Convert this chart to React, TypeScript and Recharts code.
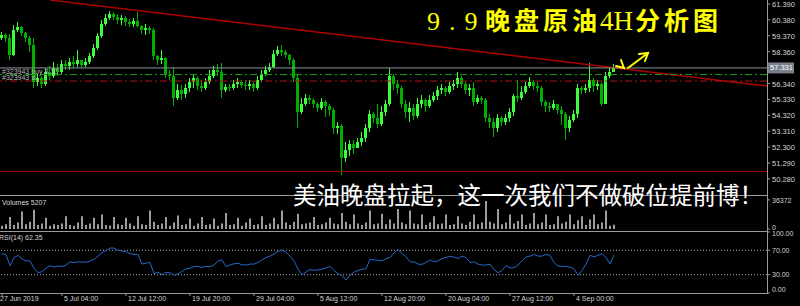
import { Bar, BarChart, ComposedChart, Line, LineChart, ReferenceLine, XAxis, YAxis } from "recharts";

// 4H crude oil bars, one entry per drawn candle (oldest first)
const firstOpen = 59.23;
const closes = [
  59.42, 59.23, 58.15, 59.74, 59.93, 59.55, 59.23, 58.79, 56.44, 56.69,
  56.31, 57.07, 56.82, 57.33, 57.07, 57.58, 57.45, 57.71, 57.58, 57.83,
  57.52, 57.71, 58.09, 58.6, 59.36, 60.12, 60.5, 60.76, 60.56, 60.37,
  60.5, 60.25, 60.12, 60.31, 59.99, 59.74, 59.87, 59.74, 58.09, 57.83,
  57.96, 56.88, 56.82, 55.42, 55.93, 55.68, 56.06, 56.44, 56.69, 56.18,
  56.06, 56.44, 56.82, 57.2, 57.07, 55.93, 56.12, 56.06, 56.31, 56.44,
  56.25, 56.18, 56.31, 56.06, 56.56, 56.95, 57.2, 57.39, 58.22, 58.47,
  58.34, 58.15, 57.83, 56.69, 54.53, 55.04, 55.42, 55.29, 55.04, 54.79,
  55.17, 54.91, 54.66, 53.52, 53.64, 51.61, 52.12, 52.5, 52.25, 52.63,
  52.88, 53.52, 54.41, 54.15, 53.77, 54.53, 55.04, 56.82, 56.31, 56.06,
  55.04, 54.53, 54.79, 54.28, 55.04, 55.29, 54.91, 55.29, 55.55, 55.93,
  56.06, 55.8, 56.18, 56.31, 56.69, 56.31, 55.93, 56.06, 55.17, 55.42,
  55.29, 54.15, 53.9, 53.52, 54.15, 53.9, 54.15, 54.53, 55.55, 55.42,
  55.8, 56.18, 56.44, 56.18, 56.06, 55.17, 54.91, 54.79, 55.04, 54.66,
  54.41, 53.52, 54.03, 54.41, 56.06, 55.93, 56.06, 56.56, 56.18, 56.31,
  55.04, 56.82, 57.07, 57.33,
];
const highs = [
  59.61, 59.55, 59.49, 60.06, 60.25, 59.99, 59.61, 59.36, 59.23, 56.95,
  56.82, 57.33, 57.45, 57.71, 57.58, 57.83, 57.83, 57.96, 58.09, 58.47,
  57.83, 57.96, 58.28, 58.85, 59.55, 60.37, 60.76, 60.95, 60.88, 60.76,
  60.69, 60.63, 60.44, 60.5, 60.88, 60.06, 60.12, 59.99, 59.87, 58.15,
  58.47, 58.03, 57.2, 57.39, 56.31, 56.25, 56.31, 56.69, 56.95, 56.82,
  56.56, 56.69, 57.2, 57.45, 57.58, 57.64, 56.31, 56.31, 56.56, 56.69,
  56.56, 56.56, 56.56, 56.44, 56.82, 57.2, 57.45, 57.64, 58.47, 58.72,
  58.79, 58.47, 58.22, 57.96, 56.95, 55.42, 55.68, 55.61, 55.42, 55.17,
  55.42, 55.29, 55.04, 54.79, 53.9, 53.77, 52.63, 52.76, 52.76, 52.88,
  53.26, 53.77, 54.66, 54.53, 55.04, 54.91, 55.29, 57.33, 56.95, 56.56,
  56.18, 55.29, 55.17, 55.04, 55.42, 55.61, 55.42, 55.61, 55.8, 56.18,
  56.31, 56.18, 56.44, 56.56, 57.07, 56.82, 56.44, 56.31, 56.44, 55.61,
  55.55, 55.42, 54.41, 54.15, 54.41, 54.28, 54.41, 54.79, 55.68, 56.56,
  56.18, 56.44, 56.75, 56.56, 56.44, 56.18, 55.29, 55.17, 55.29, 55.04,
  54.91, 54.53, 54.28, 54.66, 56.31, 56.18, 56.31, 57.64, 56.69, 56.56,
  56.44, 57.07, 57.33, 57.58,
];
const lows = [
  59.1, 58.98, 57.83, 58.09, 59.61, 59.36, 58.98, 58.34, 56.06, 56.18,
  56.06, 56.18, 56.56, 56.69, 56.82, 56.95, 57.2, 57.2, 57.33, 57.39,
  57.33, 57.39, 57.58, 57.96, 58.47, 59.23, 59.99, 60.37, 60.37, 60.12,
  60.06, 59.99, 59.93, 59.93, 59.87, 59.49, 59.42, 59.49, 57.83, 57.52,
  57.58, 56.69, 56.56, 54.91, 55.29, 55.29, 55.42, 55.8, 56.06, 55.93,
  55.8, 55.93, 56.31, 56.69, 56.82, 55.42, 55.8, 55.87, 55.93, 56.06,
  56.06, 55.93, 55.93, 55.8, 55.93, 56.44, 56.82, 57.07, 57.33, 58.09,
  58.09, 57.96, 57.52, 56.44, 53.52, 54.41, 54.91, 55.04, 54.79, 54.53,
  54.66, 54.22, 54.28, 53.14, 53.14, 50.53, 51.36, 51.74, 51.87, 52.25,
  52.37, 52.63, 53.26, 53.83, 53.52, 53.64, 54.28, 54.91, 55.93, 55.68,
  54.79, 54.15, 53.9, 54.03, 54.15, 54.79, 54.53, 54.79, 55.17, 55.29,
  55.68, 55.55, 55.68, 55.93, 56.06, 56.06, 55.68, 55.55, 54.91, 55.04,
  55.04, 53.9, 53.52, 52.95, 53.26, 53.64, 53.71, 53.9, 54.28, 55.17,
  55.29, 55.68, 56.06, 55.93, 55.8, 54.91, 54.53, 54.53, 54.66, 54.41,
  53.71, 52.76, 53.26, 53.9, 54.15, 55.68, 55.74, 55.8, 55.8, 55.93,
  54.91, 55.29, 56.69, 57.07,
];
const volumes = [
  4000, 6000, 15000, 5000, 8000, 22000, 6000, 9000, 24000, 5000,
  7000, 14000, 4000, 6000, 5000, 7000, 16000, 5000, 4000, 8000,
  16000, 5000, 7000, 14000, 6000, 18000, 5000, 4000, 15000, 6000,
  5000, 14000, 7000, 4000, 16000, 6000, 5000, 23000, 9000, 5000,
  7000, 15000, 4000, 8000, 17000, 5000, 6000, 13000, 4000, 7000,
  15000, 5000, 6000, 13000, 4000, 7000, 20000, 5000, 6000, 14000,
  4000, 8000, 13000, 5000, 6000, 16000, 5000, 7000, 14000, 6000,
  23000, 8000, 5000, 9000, 19000, 6000, 7000, 8000, 15000, 5000,
  6000, 8000, 14000, 7000, 6000, 20000, 9000, 6000, 18000, 7000,
  5000, 8000, 23000, 6000, 7000, 19000, 6000, 12000, 7000, 25000,
  8000, 6000, 23000, 7000, 6000, 18000, 5000, 8000, 16000, 6000,
  7000, 18000, 5000, 6000, 16000, 7000, 5000, 9000, 18000, 6000,
  8000, 35000, 9000, 7000, 25000, 6000, 8000, 18000, 7000, 10000,
  18000, 5000, 7000, 20000, 6000, 8000, 18000, 5000, 6000, 16000,
  7000, 9000, 18000, 6000, 11000, 16000, 5000, 12000, 18000, 6000,
  8000, 23000, 4000, 5207,
];
const rsiValues = [
  64.2, 63.2, 44.8, 57.9, 61.6, 56.3, 52.6, 52.6, 40.5, 33.2,
  34.8, 40.5, 44.8, 42.6, 44.2, 43.7, 45.8, 51.1, 50.0, 51.1,
  51.1, 50.5, 52.1, 55.3, 60.5, 65.8, 69.5, 73.7, 73.7, 70.0,
  68.9, 67.9, 64.7, 63.2, 63.2, 47.4, 49.0, 50.0, 31.6, 34.2,
  30.0, 33.7, 33.2, 29.0, 31.6, 35.3, 39.5, 40.5, 43.2, 43.7,
  42.1, 43.7, 43.2, 45.8, 52.6, 54.2, 43.2, 45.8, 47.9, 49.0,
  46.3, 45.8, 47.4, 47.4, 50.0, 54.2, 57.9, 60.5, 63.7, 68.4,
  70.0, 66.8, 60.5, 52.6, 39.5, 30.0, 34.2, 38.4, 37.4, 37.9,
  39.0, 41.1, 43.7, 36.9, 31.6, 29.0, 21.1, 29.0, 34.2, 36.9,
  39.0, 39.5, 55.3, 54.2, 53.7, 52.6, 56.3, 57.9, 65.8, 71.1,
  64.7, 59.5, 51.1, 51.1, 47.4, 46.9, 50.0, 54.2, 51.1, 52.6,
  56.3, 58.4, 60.0, 59.0, 56.3, 60.5, 57.9, 50.0, 51.1, 47.4,
  45.8, 45.8, 47.4, 38.4, 33.2, 36.9, 44.8, 41.1, 41.6, 45.8,
  52.6, 59.0, 60.5, 63.2, 60.5, 60.5, 63.2, 61.6, 50.0, 44.2,
  43.7, 43.7, 42.1, 39.5, 29.0, 36.9, 47.4, 61.6, 59.5, 61.6,
  64.7, 57.9, 47.4, 62.35,
];

const priceTicks = [61.39, 60.38, 59.37, 58.36, 56.34, 55.33, 54.32, 53.31, 52.3, 51.29, 50.28];
const volumeTicks = [0, 36372];
const rsiTicks = [0, 30, 70, 100];
const dateLabels = [
  "27 Jun 2019", "5 Jul 04:00", "12 Jul 12:00", "19 Jul 20:00", "29 Jul 04:00",
  "5 Aug 12:00", "12 Aug 20:00", "20 Aug 04:00", "27 Aug 12:00", "4 Sep 00:00",
];
const dateBars = [0, 15, 31, 47, 63, 79, 95, 111, 127, 143];

const lastPrice = 57.331;
const buyPrice = 56.91;
const stopPrice = 56.5;
const supportPrice = 50.76;
const trendLine = [
  { bar: 12.5, price: 61.64 },
  { bar: 191.75, price: 56.18 },
];

const SLOTS = 191.75; // visible bar slots up to the price scale
const GRID = "#9a9a9a";
const LABEL = "#d4d4d4";
const FONT = "Liberation Sans, Arial, sans-serif";

function Candle(props: any) {
  const { x, y, width, height, payload } = props;
  if (!payload || height == null) return null;
  const { open, close, high, low } = payload;
  const top = Math.min(y, y + height);
  const bottom = Math.max(y, y + height);
  const ppu = (bottom - top) / (high - low || 1);
  const yOpen = top + (high - open) * ppu;
  const yClose = top + (high - close) * ppu;
  const up = close >= open;
  const color = up ? "#3cff3c" : "#00b000";
  const cx = Math.floor(x + width / 2);
  const bTop = Math.min(yOpen, yClose);
  const bH = Math.max(1, Math.abs(yClose - yOpen));
  return (
    <g shapeRendering="crispEdges">
      <rect x={cx} y={Math.min(top, bTop)} width={1} height={Math.max(bottom, bTop + bH) - Math.min(top, bTop)} fill={color} />
      <rect x={cx - 1} y={bTop} width={3} height={bH} fill={color} />
    </g>
  );
}

function PriceTick(props: any) {
  const { x, y, payload } = props;
  return (
    <text x={x} y={y + 3} fill={LABEL} fontSize={7.5} fontFamily={FONT}>
      {Number(payload.value).toFixed(3)}
    </text>
  );
}

function VolumeTick(props: any) {
  const { x, y, payload } = props;
  const dy = payload.value === 0 ? 1 : 3;
  return (
    <text x={x} y={y + dy} fill={LABEL} fontSize={7} fontFamily={FONT}>
      {payload.value}
    </text>
  );
}

function RsiTick(props: any) {
  const { x, y, payload } = props;
  const dy = payload.value === 100 ? 4 : payload.value === 0 ? -1 : 2.5;
  return (
    <text x={x} y={y + dy} fill={LABEL} fontSize={7} fontFamily={FONT}>
      {Number(payload.value).toFixed(2)}
    </text>
  );
}

function DateTick(props: any) {
  const { x, y, payload, index } = props;
  const i = dateBars.indexOf(payload.value - 0.5);
  return (
    <text x={index === 0 ? 0 : x + 2} y={y + 3} fill={LABEL} fontSize={7} fontFamily={FONT}>
      {dateLabels[i >= 0 ? i : index]}
    </text>
  );
}

function OrderLabel({ viewBox, text }: any) {
  return (
    <text x={viewBox.x + 2} y={viewBox.y - 1} fill="#b8b8b8" fontSize={7} fontFamily={FONT}>
      {text}
    </text>
  );
}

function PriceTag({ viewBox, value }: any) {
  const x = viewBox.x + viewBox.width + 1;
  return (
    <g>
      <rect x={x} y={viewBox.y - 5.5} width={26} height={11} fill="#7a818c" />
      <text x={x + 2} y={viewBox.y + 2.5} fill="#ffffff" fontSize={7.5} fontFamily={FONT}>
        {value.toFixed(3)}
      </text>
    </g>
  );
}

export default function App() {
  const candles = closes.map((close, i) => ({
    bar: i + 0.5,
    open: i === 0 ? firstOpen : closes[i - 1],
    close,
    high: highs[i],
    low: lows[i],
    range: [lows[i], highs[i]],
    volume: volumes[i],
    rsi: rsiValues[i],
  }));
  const dateTicks = dateBars.map((b) => b + 0.5);
  const lastVolume = volumes[volumes.length - 1];
  const lastRsi = rsiValues[rsiValues.length - 1];

  return (
    <div style={{ position: "absolute", left: 0, top: 0, width: 800, height: 306, background: "#000", overflow: "hidden" }}>
      <div style={{ position: "absolute", left: 0, top: 0 }}>
        <ComposedChart width={800} height={195} data={candles} margin={{ top: 0, right: 0, bottom: 0, left: 0 }}>
          <XAxis dataKey="bar" type="number" domain={[0, SLOTS]} hide allowDataOverflow />
          <YAxis
            orientation="right"
            width={33}
            domain={[49.263, 61.644]}
            allowDataOverflow
            ticks={priceTicks}
            interval={0}
            axisLine={false}
            tickSize={3}
            tickLine={{ stroke: GRID }}
            tick={(p: any) => <PriceTick {...p} />}
          />
          <ReferenceLine y={supportPrice} stroke="#a00000" />
          <ReferenceLine
            segment={[
              { x: trendLine[0].bar, y: trendLine[0].price },
              { x: trendLine[1].bar, y: trendLine[1].price },
            ]}
            stroke="#b00000"
            strokeWidth={1.5}
          />
          <ReferenceLine
            y={buyPrice}
            stroke="#1a9a1a"
            strokeDasharray="7 3 2 3"
            label={(p: any) => <OrderLabel viewBox={p.viewBox} text="#323943 buy 3.10" />}
          />
          <ReferenceLine
            y={stopPrice}
            stroke="#b01818"
            strokeDasharray="7 3 2 3"
            label={(p: any) => <OrderLabel viewBox={p.viewBox} text="#323943 sl" />}
          />
          <Bar dataKey="range" barSize={3} shape={(p: any) => <Candle {...p} />} isAnimationActive={false} />
          <ReferenceLine
            y={lastPrice}
            stroke="#8c939e"
            label={(p: any) => <PriceTag viewBox={p.viewBox} value={lastPrice} />}
          />
        </ComposedChart>
      </div>

      <div style={{ position: "absolute", left: 0, top: 195 }}>
        <BarChart width={800} height={36} data={candles} margin={{ top: 2, right: 0, bottom: 2, left: 0 }}>
          <XAxis dataKey="bar" type="number" domain={[0, SLOTS]} hide allowDataOverflow />
          <YAxis
            orientation="right"
            width={33}
            domain={[0, 40000]}
            allowDataOverflow
            ticks={volumeTicks}
            interval={0}
            axisLine={false}
            tickSize={3}
            tickLine={{ stroke: GRID }}
            tick={(p: any) => <VolumeTick {...p} />}
          />
          <Bar dataKey="volume" fill="#9c9c9c" barSize={2} isAnimationActive={false} />
        </BarChart>
      </div>

      <div style={{ position: "absolute", left: 0, top: 231 }}>
        <LineChart width={800} height={75} data={candles} margin={{ top: 1, right: 0, bottom: 0, left: 0 }}>
          <XAxis
            dataKey="bar"
            type="number"
            domain={[0, SLOTS]}
            allowDataOverflow
            ticks={dateTicks}
            interval={0}
            height={13}
            axisLine={false}
            tickSize={3}
            tickLine={{ stroke: GRID }}
            tick={(p: any) => <DateTick {...p} />}
          />
          <YAxis
            orientation="right"
            width={33}
            domain={[0, 100]}
            ticks={rsiTicks}
            interval={0}
            axisLine={false}
            tickSize={3}
            tickLine={{ stroke: GRID }}
            tick={(p: any) => <RsiTick {...p} />}
          />
          <ReferenceLine y={70} stroke="#a8a8a8" strokeDasharray="1 2" />
          <ReferenceLine y={30} stroke="#a8a8a8" strokeDasharray="1 2" />
          <Line dataKey="rsi" type="linear" stroke="#2468c8" strokeWidth={1} dot={false} isAnimationActive={false} />
        </LineChart>
      </div>

      <svg width={800} height={306} style={{ position: "absolute", left: 0, top: 0, pointerEvents: "none" }}>
        <g stroke={GRID} strokeWidth={1} shapeRendering="crispEdges">
          <line x1={767.5} y1={0} x2={767.5} y2={294} />
          <line x1={0} y1={195.5} x2={767} y2={195.5} />
          <line x1={0} y1={231.5} x2={767} y2={231.5} />
          <line x1={0} y1={293.5} x2={767} y2={293.5} />
        </g>
        <text x={2} y={204.5} fill={LABEL} fontSize={7} fontFamily={FONT}>{`Volumes ${lastVolume}`}</text>
        <text x={-1} y={239.5} fill={LABEL} fontSize={7} fontFamily={FONT}>{`RSI(14) ${lastRsi.toFixed(2)}`}</text>

        <text y={30} fill="#ffff00">
          <tspan x={427} fontFamily="Liberation Serif" fontSize={26} letterSpacing={9}>9.9</tspan>
          <tspan x={485} fontFamily="Noto Sans CJK SC" fontWeight={700} fontSize={25} letterSpacing={4}>晚盘原油</tspan>
          <tspan x={600} fontFamily="Liberation Serif" fontSize={27}>4H</tspan>
          <tspan x={635} fontFamily="Noto Sans CJK SC" fontWeight={700} fontSize={25} letterSpacing={4}>分析图</tspan>
        </text>

        <g stroke="#ffff00" strokeWidth={2} fill="none" strokeLinecap="round">
          <line x1={628} y1={68} x2={648} y2={53} />
          <polyline points="639,54 648,53 645,61" />
          <polyline points="616,66 624,68 621,60" />
        </g>

        <text x={293} y={204} fill="#ffffff" fontSize={23.5} fontFamily="Noto Sans CJK SC">
          美油晚盘拉起，这一次我们不做破位提前博！
        </text>
      </svg>
    </div>
  );
}
